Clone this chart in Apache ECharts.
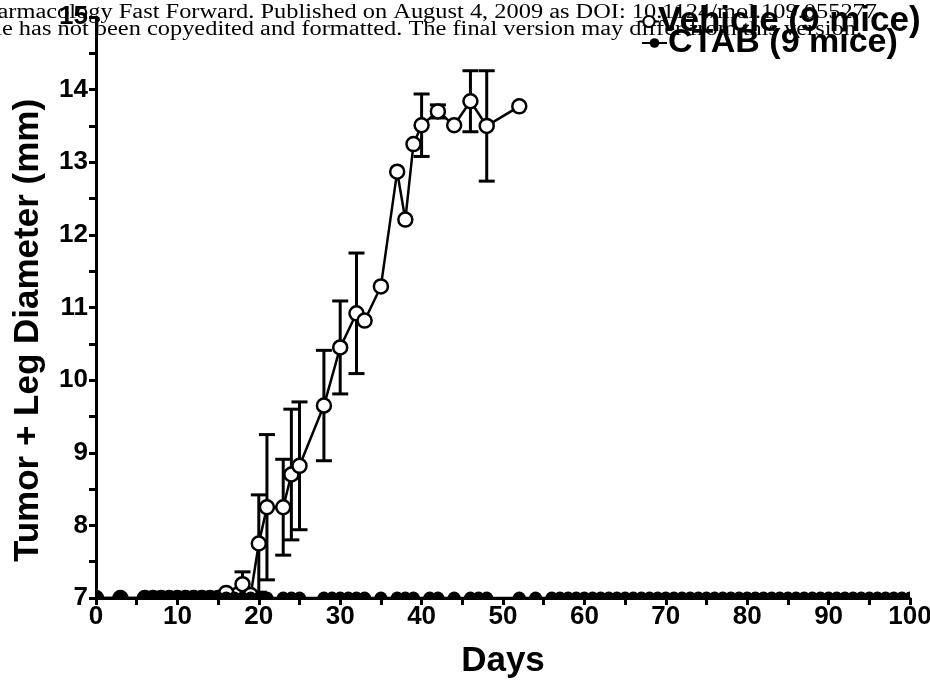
<!DOCTYPE html>
<html>
<head>
<meta charset="utf-8">
<script src="https://cdn.jsdelivr.net/npm/echarts@6/dist/echarts.min.js"></script>
<style>
  html, body { margin: 0; padding: 0; background: #fff; }
  #chart { width: 930px; height: 682px; }
</style>
</head>
<body>
<div id="chart"></div>
<script>
// Tumor + leg diameter over time, vehicle vs. CTAB treated mice (mean ± SEM)
const vehicleDays = [0, 3, 6, 7, 8, 9, 10, 11, 12, 13, 14, 15, 16, 18, 19, 20, 21, 23, 24, 25,
  28, 30, 32, 33, 35, 37, 38, 39, 40, 42, 44, 46, 48, 52];
const vehicleMean = [7, 7, 7, 7, 7, 7, 7, 7, 7, 7, 7, 7, 7.07, 7.19, 7.04, 7.75, 8.25, 8.25, 8.70, 8.82,
  9.65, 10.45, 10.92, 10.82, 11.29, 12.87, 12.21, 13.25, 13.51, 13.70, 13.51, 13.84, 13.50, 13.77];
const vehicleSem = [0, 0, 0, 0, 0, 0, 0, 0, 0, 0, 0, 0, 0, 0.17, 0, 0.67, 1.00, 0.66, 0.90, 0.88,
  0.76, 0.64, 0.83, 0, 0, 0, 0, 0, 0.43, 0.09, 0, 0.42, 0.76, 0];

const ctabDays = [0, 3, 6, 7, 8, 9, 10, 11, 12, 13, 14, 15, 16, 17, 18, 19, 20, 21, 23, 24, 25,
  28, 29, 30, 31, 32, 33, 35, 37, 38, 39, 41, 42, 44, 46, 47, 48, 52, 54, 56,
  57, 58, 59, 60, 61, 62, 63, 64, 65, 66, 67, 68, 69, 70, 71, 72, 73, 74, 75, 76, 77, 78,
  79, 80, 81, 82, 83, 84, 85, 86, 87, 88, 89, 90, 91, 92, 93, 94, 95, 96, 97, 98, 99, 100];
const ctabMean = [7, 7, 7, 7, 7, 7, 7, 7, 7, 7, 7, 7, 7, 7, 7, 7, 7, 7, 7, 7, 7,
  7, 7, 7, 7, 7, 7, 7, 7, 7, 7, 7, 7, 7, 7, 7, 7, 7, 7, 7,
  7, 7, 7, 7, 7, 7, 7, 7, 7, 7, 7, 7, 7, 7, 7, 7, 7, 7, 7, 7, 7, 7,
  7, 7, 7, 7, 7, 7, 7, 7, 7, 7, 7, 7, 7, 7, 7, 7, 7, 7, 7, 7, 7, 7];

const xTicks = { min: 0, max: 100, step: 10 };
const yTicks = { min: 7, max: 15, step: 1 };

const seriesNames = ['Vehicle (9 mice)', 'CTAB (9 mice)'];
const headerLines = [
  'Molecular Pharmacology Fast Forward. Published on August 4, 2009 as DOI: 10.1124/mol.109.055277',
  'This article has not been copyedited and formatted. The final version may differ from this version.'
];

const vehiclePoints = vehicleDays.map((d, i) => [d, vehicleMean[i]]);
const vehicleBars = vehicleDays.map((d, i) => [d, vehicleMean[i] - vehicleSem[i], vehicleMean[i] + vehicleSem[i]])
  .filter((b, i) => vehicleSem[i] > 0);
const ctabPoints = ctabDays.map((d, i) => [d, ctabMean[i]]);

const FONT = '"Liberation Sans", Arial, sans-serif';
const INK = '#000';

const chart = echarts.init(document.getElementById('chart'), null, { renderer: 'canvas' });

function renderErrorBar(params, api) {
  const x = api.value(0);
  const lo = api.coord([x, api.value(1)]);
  const hi = api.coord([x, api.value(2)]);
  const cap = 8;
  const style = { stroke: INK, lineWidth: 3 };
  return {
    type: 'group',
    children: [
      { type: 'line', shape: { x1: lo[0], y1: lo[1], x2: hi[0], y2: hi[1] }, style },
      { type: 'line', shape: { x1: hi[0] - cap, y1: hi[1], x2: hi[0] + cap, y2: hi[1] }, style },
      { type: 'line', shape: { x1: lo[0] - cap, y1: lo[1], x2: lo[0] + cap, y2: lo[1] }, style }
    ]
  };
}

function dotRenderer(r, fill, lw) {
  return function (params, api) {
    const p = api.coord([api.value(0), api.value(1)]);
    return {
      type: 'circle',
      shape: { cx: p[0], cy: p[1], r: r },
      style: { fill: fill, stroke: INK, lineWidth: lw }
    };
  };
}

const legendText = { fontFamily: FONT, fontWeight: 'bold', color: INK, lineHeight: 34 };

const option = {
  animation: false,
  backgroundColor: '#fff',
  grid: { left: 96, right: 20, top: 17, bottom: 84, containLabel: false, outerBoundsMode: 'none' },
  legend: [
    {
      data: [seriesNames[0]],
      left: 638,
      top: 4,
      padding: 0,
      itemWidth: 20,
      itemHeight: 14,
      selectedMode: false,
      z: 10,
      textStyle: Object.assign({ fontSize: 35, padding: [0, 0, 0, -6] }, legendText)
    },
    {
      data: [seriesNames[1]],
      left: 641,
      top: 26,
      padding: 0,
      itemWidth: 25,
      itemHeight: 12,
      selectedMode: false,
      z: 10,
      textStyle: Object.assign({ fontSize: 34, padding: [0, 0, 0, -4] }, legendText)
    }
  ],
  xAxis: {
    type: 'value',
    min: xTicks.min, max: xTicks.max, interval: xTicks.step,
    name: 'Days',
    nameLocation: 'middle',
    nameGap: 46,
    nameTextStyle: { fontFamily: FONT, fontWeight: 'bold', fontSize: 35, color: INK },
    axisLine: { lineStyle: { color: INK, width: 3 } },
    axisTick: { length: 7, lineStyle: { color: INK, width: 3 } },
    minorTick: { show: true, splitNumber: 2, length: 7, lineStyle: { color: INK, width: 3 } },
    splitLine: { show: false },
    axisLabel: { fontFamily: FONT, fontWeight: 'bold', fontSize: 26, color: INK, margin: 6 }
  },
  yAxis: {
    type: 'value',
    min: yTicks.min, max: yTicks.max, interval: yTicks.step,
    name: 'Tumor + Leg Diameter (mm)',
    nameLocation: 'middle',
    nameGap: 50,
    nameRotate: 90,
    nameTextStyle: { fontFamily: FONT, fontWeight: 'bold', fontSize: 35, color: INK, padding: [0, 46, 0, 0] },
    axisLine: { lineStyle: { color: INK, width: 3 } },
    axisTick: { length: 7, lineStyle: { color: INK, width: 3 } },
    minorTick: { show: true, splitNumber: 2, length: 7, lineStyle: { color: INK, width: 3 } },
    splitLine: { show: false },
    axisLabel: { fontFamily: FONT, fontWeight: 'bold', fontSize: 26, color: INK, margin: 8 }
  },
  graphic: headerLines.map((t, i) => ({
    type: 'text',
    x: i === 0 ? 877 : 862,
    y: i === 0 ? 13 : 30,
    scaleX: 1.22,
    z: -10,
    silent: true,
    style: {
      text: t,
      fontFamily: '"Liberation Serif", "Times New Roman", serif',
      fontSize: 20,
      fill: INK,
      align: 'right',
      verticalAlign: 'middle'
    }
  })),
  series: [
    {
      name: seriesNames[0],
      type: 'line',
      data: vehiclePoints,
      symbol: 'none',
      z: 2,
      lineStyle: { color: INK, width: 2.5 },
      itemStyle: { color: '#fff', borderColor: INK, borderWidth: 2.5 }
    },
    {
      type: 'custom',
      name: 'vehicleSem',
      data: vehicleBars,
      renderItem: renderErrorBar,
      z: 3
    },
    {
      type: 'custom',
      name: 'vehicleMarkers',
      data: vehiclePoints,
      renderItem: dotRenderer(7, '#fff', 2.5),
      clip: true,
      z: 4
    },
    {
      name: seriesNames[1],
      type: 'line',
      data: ctabPoints,
      symbol: 'none',
      z: 5,
      lineStyle: { color: INK, width: 2.5 },
      itemStyle: { color: INK, borderColor: INK }
    },
    {
      type: 'custom',
      name: 'ctabMarkers',
      data: ctabPoints,
      renderItem: dotRenderer(6.5, INK, 0),
      clip: true,
      z: 6
    }
  ]
};

chart.setOption(option);
</script>
</body>
</html>
